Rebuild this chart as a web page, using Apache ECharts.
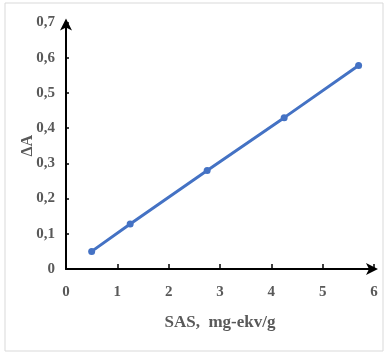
<!DOCTYPE html>
<html><head><meta charset="utf-8">
<script src="https://cdn.jsdelivr.net/npm/echarts@6/dist/echarts.min.js"></script>
<style>html,body{margin:0;padding:0;background:#fff}#c{width:385px;height:354px}</style>
</head><body><div id="c"></div>
<script>
const xValues = [0.5, 1.25, 2.75, 4.25, 5.7];
const yValues = [0.05, 0.128, 0.28, 0.43, 0.578];
const xTitle = 'SAS,  mg-ekv/g';
const yTitle = 'ΔA';

const chart = echarts.init(document.getElementById('c'), null, {renderer: 'canvas'});
const font = '"Liberation Serif", "Times New Roman", serif';
chart.setOption({
  animation: false,
  graphic: [{type: 'rect', shape: {x: 5, y: 3, width: 378, height: 348}, style: {fill: 'none', stroke: '#d9d9d9', lineWidth: 1}}],
  grid: {left: 66, right: 11, top: 22.6, bottom: 85},
  xAxis: {
    type: 'value', min: 0, max: 6, interval: 1,
    name: xTitle, nameLocation: 'middle', nameGap: 45, nameMoveOverlap: false,
    nameTextStyle: {fontFamily: font, fontWeight: 'bold', fontSize: 17, color: '#595959'},
    axisLine: {lineStyle: {color: '#000', width: 2}, symbol: ['none', 'arrow'], symbolSize: [9, 12], symbolOffset: [0, 4]},
    axisTick: {inside: true, length: 5, lineStyle: {color: '#000', width: 1.5}},
    axisLabel: {fontFamily: font, fontWeight: 'bold', fontSize: 15, color: '#595959', margin: 16},
    splitLine: {show: false}
  },
  yAxis: {
    type: 'value', min: 0, max: 0.7, interval: 0.1,
    name: yTitle, nameLocation: 'middle', nameGap: 30, nameRotate: 90, nameMoveOverlap: false,
    nameTextStyle: {fontFamily: font, fontWeight: 'bold', fontSize: 16, color: '#595959'},
    axisLine: {lineStyle: {color: '#000', width: 2}, symbol: ['none', 'arrow'], symbolSize: [9, 12], symbolOffset: [0, 4]},
    axisTick: {inside: true, length: 3, lineStyle: {color: '#000', width: 1.5}},
    axisLabel: {fontFamily: font, fontWeight: 'bold', fontSize: 15, color: '#595959', margin: 11,
      formatter: v => v === 0 ? '0' : v.toFixed(1).replace('.', ',')},
    splitLine: {show: false}
  },
  series: [{
    type: 'line',
    data: xValues.map((x, i) => [x, yValues[i]]),
    symbol: 'circle', symbolSize: 7,
    lineStyle: {color: '#4472C4', width: 3},
    itemStyle: {color: '#4472C4'}
  }]
});
</script></body></html>
